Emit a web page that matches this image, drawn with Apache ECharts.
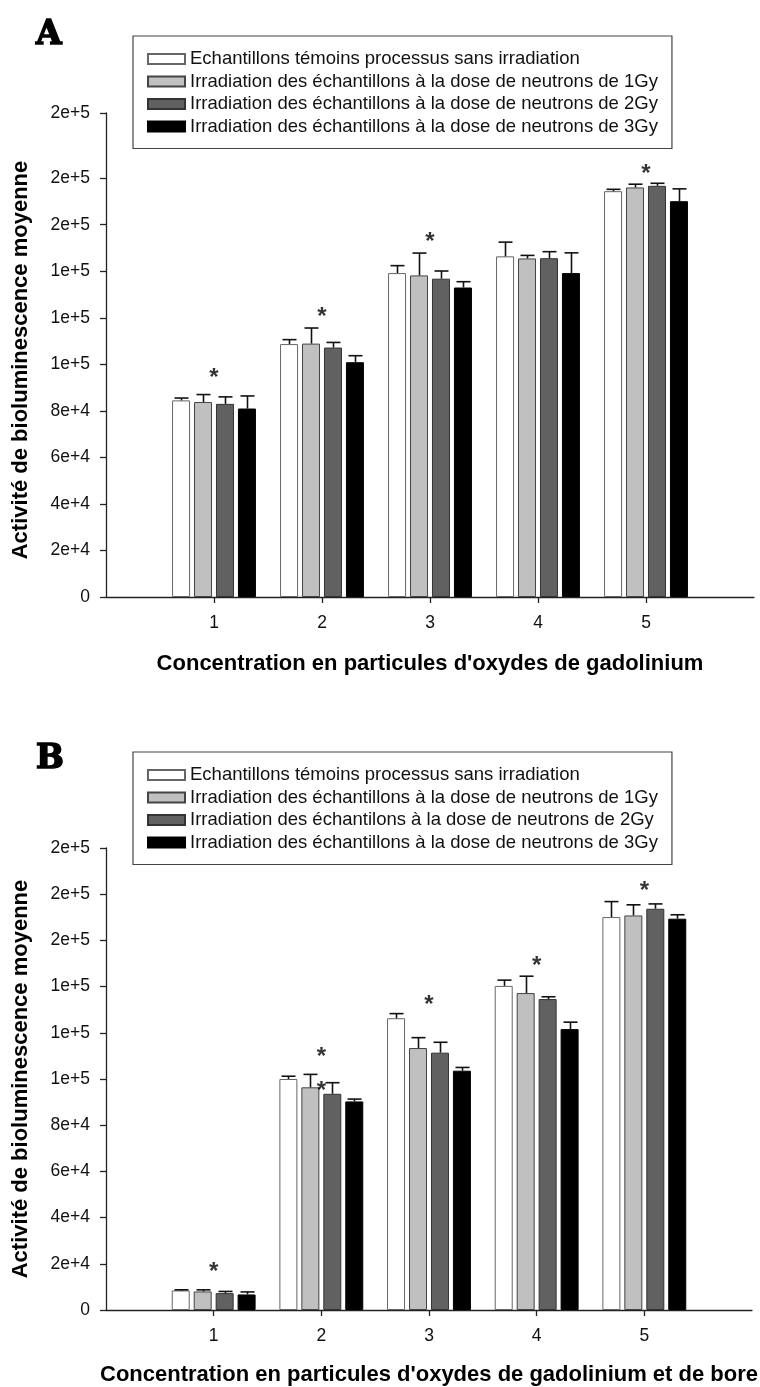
<!DOCTYPE html>
<html>
<head>
<meta charset="utf-8">
<script src="https://cdn.jsdelivr.net/npm/echarts@6/dist/echarts.min.js"></script>
<style>
html,body{margin:0;padding:0;background:#fff;}
#chart{width:760px;height:1387px;}
</style>
</head>
<body>
<div id="chart"></div>
<script>
// ---------- data ----------
const categories = ['', '1', '2', '3', '4', '5', ''];
const concIndex = [1, 2, 3, 4, 5];

const namesA = [
  'Echantillons témoins processus sans irradiation',
  'Irradiation des échantillons à la dose de neutrons de 1Gy',
  'Irradiation des échantillons à la dose de neutrons de 2Gy',
  'Irradiation des échantillons à la dose de neutrons de 3Gy'
];
const namesB = [
  'Echantillons témoins processus sans irradiation',
  'Irradiation des échantillons à la dose de neutrons de 1Gy',
  'Irradiation des échantilons à la dose de neutrons de 2Gy',
  'Irradiation des échantillons à la dose de neutrons de 3Gy'
];

// Panel A: means and upper error
const a_ctrl  = [84500, 108700, 139200, 146400, 174400];
const a_1gy   = [83800, 108900, 138200, 145500, 176000];
const a_2gy   = [83000, 107200, 136800, 145600, 176700];
const a_3gy   = [81000, 100900, 133000, 139200, 170100];
const a_ctrl_err = [1000, 1900, 3200, 6100, 800];
const a_1gy_err  = [3200, 6700, 9600, 1300, 1400];
const a_2gy_err  = [3000, 2200, 3300, 2800, 1100];
const a_3gy_err  = [5400, 2800, 2500, 8700, 5300];
const a_stars = [[1, 96600], [2, 122700], [3, 155100], [5, 184100]];

// Panel B: means and upper error
const b_ctrl  = [8450, 100000, 126300, 140300, 170100];
const b_1gy   = [8030, 96400, 113400, 137200, 170800];
const b_2gy   = [7300, 93600, 111400, 134600, 173700];
const b_3gy   = [6730, 90300, 103600, 121600, 169400];
const b_ctrl_err = [300, 1200, 2000, 2500, 6700];
const b_1gy_err  = [700, 5600, 4500, 7300, 4600];
const b_2gy_err  = [730, 4800, 4500, 1000, 2100];
const b_3gy_err  = [1100, 1000, 1400, 3000, 1700];
const b_stars = [[1, 18900], [2, 111900], [2, 97100], [3, 134300], [4, 151500], [5, 183700]];

// axis ticks
const yTicksA = [0, 20000, 40000, 60000, 80000, 100000, 120000, 140000, 160000, 180000, 208000];
const yTicksB = [0, 20000, 40000, 60000, 80000, 100000, 120000, 140000, 160000, 180000, 200000];
const yTickLabels = ['0', '2e+4', '4e+4', '6e+4', '8e+4', '1e+5', '1e+5', '1e+5', '2e+5', '2e+5', '2e+5'];

const xTitleA = "Concentration en particules d'oxydes de gadolinium";
const xTitleB = "Concentration en particules d'oxydes de gadolinium et de bore";
const yTitle = 'Activité de bioluminescence moyenne';

// ---------- style ----------
const FONT = "'Liberation Sans', Arial, sans-serif";
const fills = ['#ffffff', '#c0c0c0', '#616161', '#000000'];
const borders = ['#666666', '#444444', '#333333', '#000000'];
const BAR_W = 18, BAR_STEP = 22;

const chart = echarts.init(document.getElementById('chart'), null, {renderer: 'canvas'});

function panel(idx, names, means, errs, stars, yTicks, xTitle, xNameGap, yPad) {
  const series = [];
  means.forEach((m, k) => {
    series.push({
      type: 'bar', name: names[k], xAxisIndex: idx, yAxisIndex: idx,
      barWidth: BAR_W, barGap: '22%',
      itemStyle: {color: fills[k], borderColor: borders[k], borderWidth: 1},
      data: concIndex.map((c, i) => [c, m[i]]),
      animation: false, silent: true
    });
  });
  means.forEach((m, k) => {
    series.push({
      type: 'custom', xAxisIndex: idx, yAxisIndex: idx, animation: false, silent: true, z: 3,
      data: concIndex.map((c, i) => [c, m[i], errs[k][i]]),
      renderItem: function (params, api) {
        const x = api.value(0), v = api.value(1), e = api.value(2);
        const p0 = api.coord([x, v]);
        const p1 = api.coord([x, v + e]);
        const cx = Math.round(p0[0] + (k - 1.5) * BAR_STEP) + 0.5;
        const st = {stroke: '#111', lineWidth: 1.6};
        return {type: 'group', children: [
          {type: 'line', shape: {x1: cx, y1: p0[1], x2: cx, y2: p1[1]}, style: st},
          {type: 'line', shape: {x1: cx - 7, y1: p1[1], x2: cx + 7, y2: p1[1]}, style: st}
        ]};
      }
    });
  });
  series.push({
    type: 'scatter', xAxisIndex: idx, yAxisIndex: idx, symbolSize: 1, itemStyle: {color: 'rgba(0,0,0,0)'},
    data: stars, animation: false, silent: true, z: 4,
    label: {show: true, position: 'inside', formatter: '*', fontFamily: FONT, fontSize: 24, fontWeight: 'bold', color: '#000', offset: [0, 6]}
  });
  const grid = idx === 0 ? {left: 106, width: 648, top: 113, height: 484} : {left: 106, width: 648, top: 848, height: 465};
  const xAxis = {
    gridIndex: idx, type: 'category', data: categories, boundaryGap: false,
    axisLine: {lineStyle: {color: '#222', width: 1.3}},
    axisTick: {length: 6, interval: (i) => i >= 1 && i <= 5, lineStyle: {color: '#222', width: 1.3}},
    axisLabel: {interval: 0, margin: 17, fontFamily: FONT, fontSize: 17.5, color: '#111'},
    name: xTitle, nameLocation: 'middle', nameGap: xNameGap,
    nameTextStyle: {fontFamily: FONT, fontSize: 22, fontWeight: 'bold', color: '#000'}
  };
  const yAxis = {
    gridIndex: idx, type: 'value', min: 0, max: yTicks[yTicks.length - 1],
    splitLine: {show: false},
    axisLine: {show: true, lineStyle: {color: '#222', width: 1.3}},
    axisTick: {show: true, length: 6, customValues: yTicks, lineStyle: {color: '#222', width: 1.3}},
    axisLabel: {customValues: yTicks, margin: 16, fontFamily: FONT, fontSize: 17.5, color: '#111',
      formatter: (v) => { const j = yTicks.indexOf(v); return j >= 0 ? yTickLabels[j] : ''; }},
    name: yTitle, nameLocation: 'middle', nameGap: 74, nameRotate: 90,
    nameTextStyle: {fontFamily: FONT, fontSize: 22, fontWeight: 'bold', color: '#000', padding: yPad}
  };
  const legend = {
    data: names, orient: 'vertical', left: 133, top: idx === 0 ? 36 : 752,
    itemWidth: 37, itemHeight: 10, itemGap: 2.5, icon: 'rect', selectedMode: false,
    padding: [13, 14, 12, 14], borderColor: '#444', borderWidth: 1.2, backgroundColor: '#fff',
    textStyle: {fontFamily: FONT, fontSize: 18.5, lineHeight: 20, color: '#111'}
  };
  return {series, grid, xAxis, yAxis, legend};
}

const pA = panel(0, namesA, [a_ctrl, a_1gy, a_2gy, a_3gy], [a_ctrl_err, a_1gy_err, a_2gy_err, a_3gy_err], a_stars, yTicksA, xTitleA, 56, [0, 10, 0, 0]);
const pB = panel(1, namesB, [b_ctrl, b_1gy, b_2gy, b_3gy], [b_ctrl_err, b_1gy_err, b_2gy_err, b_3gy_err], b_stars, yTicksB, xTitleB, 54, [0, 0, 0, 0]);

const letterStyle = {fontFamily: "'DejaVu Serif', serif", fontSize: 33, fontWeight: 'bold', color: '#000', textBorderColor: '#000', textBorderWidth: 1.6};

chart.setOption({
  animation: false,
  backgroundColor: '#fff',
  title: [
    {text: 'A', left: 36, top: 19, padding: 0, textStyle: letterStyle},
    {text: 'B', left: 36, top: 743, padding: 0, textStyle: letterStyle}
  ],
  legend: [pA.legend, pB.legend],
  grid: [pA.grid, pB.grid],
  xAxis: [pA.xAxis, pB.xAxis],
  yAxis: [pA.yAxis, pB.yAxis],
  series: pA.series.concat(pB.series)
});
</script>
</body>
</html>
